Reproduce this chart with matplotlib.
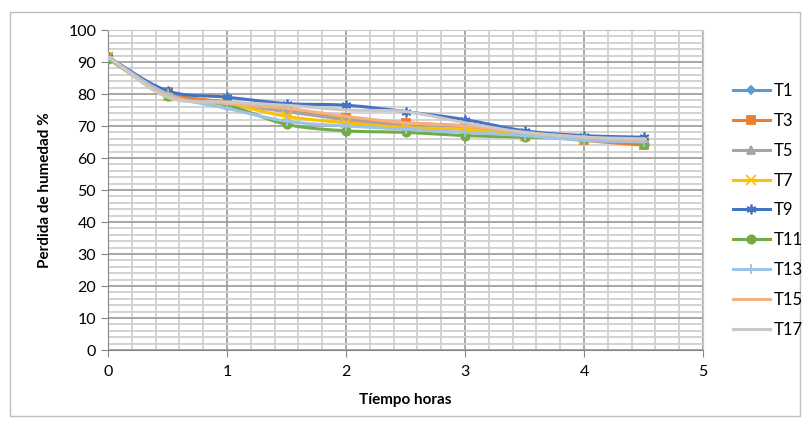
import numpy as np
import matplotlib
matplotlib.use('Agg')
import matplotlib.pyplot as plt
from matplotlib.patches import Rectangle

# Tiempo de secado (horas) y pérdida de humedad (%) por tratamiento
horas = [0, 0.5, 1, 1.5, 2, 2.5, 3, 3.5, 4, 4.5]
t1 = [91.5, 80.0, 77.5, 75.0, 72.0, 70.0, 69.5, 67.5, 66.0, 65.0]
t3 = [91.5, 80.5, 77.5, 75.5, 72.5, 71.0, 70.0, 67.5, 65.5, 64.0]
t5 = [91.5, 79.5, 77.0, 74.5, 72.0, 70.0, 69.0, 67.5, 66.0, 65.5]
t7 = [91.5, 79.5, 77.0, 73.0, 71.0, 69.5, 69.0, 67.0, 66.0, 65.0]
t9 = [91.5, 81.0, 79.0, 77.0, 76.5, 74.5, 72.0, 68.5, 67.0, 66.5]
t11 = [91.0, 79.5, 76.5, 70.5, 68.5, 68.0, 67.0, 66.5, 66.0, 64.5]
t13 = [91.5, 80.0, 75.5, 71.5, 70.0, 69.0, 68.0, 67.0, 65.5, 65.0]
t15 = [91.5, 79.5, 77.0, 75.5, 73.0, 71.0, 70.0, 68.0, 66.5, 65.5]
t17 = [91.5, 79.0, 77.5, 76.5, 75.0, 74.5, 71.0, 68.0, 66.5, 66.0]

nombres = ['T1', 'T3', 'T5', 'T7', 'T9', 'T11', 'T13', 'T15', 'T17']
series = [t1, t3, t5, t7, t9, t11, t13, t15, t17]
colores = ['#5B9BD5', '#ED7D31', '#A5A5A5', '#FFC000', '#4472C4',
           '#70AD47', '#9DC3E6', '#F4B183', '#C9C9C9']
marcadores = ['D', 's', '^', 'x', (6, 2, 0), 'o', '+', '_', '_']
tamanos = [4.5, 6, 6, 6.5, 7, 6, 7, 5, 5]


def suavizar(x, y, pasos=20):
    # curva tipo Catmull-Rom que pasa por cada punto (línea suavizada)
    x = np.asarray(x, float)
    y = np.asarray(y, float)
    px = np.concatenate([[2 * x[0] - x[1]], x, [2 * x[-1] - x[-2]]])
    py = np.concatenate([[2 * y[0] - y[1]], y, [2 * y[-1] - y[-2]]])
    xs, ys = [], []
    t = np.linspace(0, 1, pasos, endpoint=False)
    for i in range(1, len(px) - 2):
        for p, out in ((px, xs), (py, ys)):
            p0, p1, p2, p3 = p[i - 1], p[i], p[i + 1], p[i + 2]
            out.extend(0.5 * (2 * p1 + (-p0 + p2) * t
                              + (2 * p0 - 5 * p1 + 4 * p2 - p3) * t ** 2
                              + (-p0 + 3 * p1 - 3 * p2 + p3) * t ** 3))
    xs.append(x[-1])
    ys.append(y[-1])
    return np.array(xs), np.array(ys), list(range(0, len(xs), pasos))


plt.rcParams['font.family'] = ['Lato', 'DejaVu Sans']
fig = plt.figure(figsize=(8.11, 4.26), dpi=100)

# marco exterior del gráfico
fig.patches.append(Rectangle((10 / 811, 10 / 426), 790 / 811, 404 / 426,
                             transform=fig.transFigure, fill=False,
                             edgecolor='#BFBFBF', linewidth=1))

ax = fig.add_axes([108 / 811, 76 / 426, 595 / 811, 320 / 426])

for nombre, datos, color, m, ms in zip(nombres, series, colores, marcadores, tamanos):
    xs, ys, marcas = suavizar(horas, datos)
    ax.plot(xs, ys, color=color, linewidth=2.2, marker=m, markersize=ms,
            markevery=marcas, markeredgewidth=1.3, label=nombre, zorder=3)

ax.set_xlim(0, 5)
ax.set_ylim(0, 100)
ax.set_xticks(range(0, 6))
ax.set_yticks(range(0, 101, 10))
ax.set_xticks(np.arange(0, 5.01, 0.2), minor=True)
ax.set_yticks(range(0, 101, 2), minor=True)
ax.grid(which='minor', color='#D0D0D0', linewidth=1.3)
ax.grid(which='major', color='#A0A0A0', linewidth=1.3)
ax.set_axisbelow(True)

for lado in ['top', 'right']:
    ax.spines[lado].set_color('#C8C8C8')
for lado in ['left', 'bottom']:
    ax.spines[lado].set_color('#868686')
ax.tick_params(which='major', length=5, color='#868686', labelsize=11.5,
               labelcolor='#000000')
ax.tick_params(which='minor', length=0)
ax.tick_params(axis='x', pad=6)

ax.set_xlabel('Tíempo horas', fontsize=11, fontweight='bold', labelpad=10)
ax.set_ylabel('Perdida de humedad %', fontsize=11, fontweight='bold', labelpad=12)

fig.legend(loc='upper left', bbox_to_anchor=(733 / 811, 343 / 426),
           frameon=False, fontsize=12, labelspacing=0.83, handlelength=2.2,
           handletextpad=0.25, borderpad=0, borderaxespad=0)

fig.savefig('out.png', dpi=100)
